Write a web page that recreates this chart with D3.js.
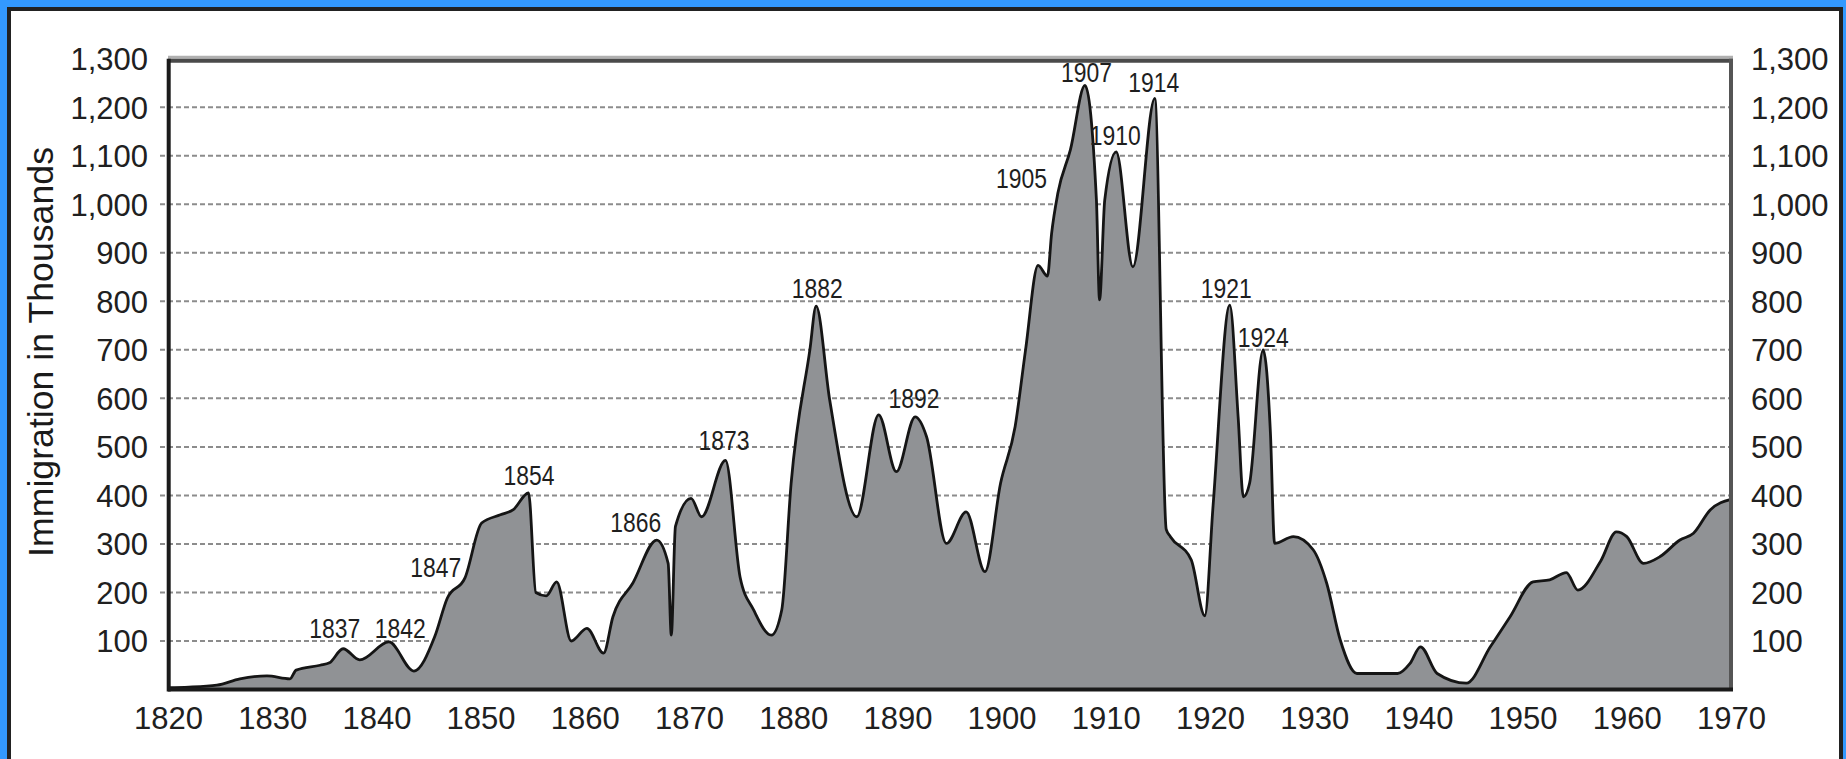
<!DOCTYPE html>
<html>
<head>
<meta charset="utf-8">
<script src="https://cdn.jsdelivr.net/npm/d3@7"></script>
<style>
  html, body { margin: 0; padding: 0; background: #ffffff; }
  svg { display: block; }
  text { font-family: "Liberation Sans", Arial, sans-serif; }
</style>
</head>
<body>
<svg id="chart" width="1846" height="759"></svg>
<script>
// ---- data (year, thousands) ----
const years = [1820, 1822, 1824.7, 1826.9, 1829.5, 1831.7, 1832.3, 1834.6, 1835.5, 1836.8, 1838.4, 1841.2, 1843.6,
  1845.6, 1846.8, 1848.5, 1850.1, 1851.9, 1853.1, 1854.6, 1855.3, 1856.3, 1857.3, 1858.7, 1860.2, 1861.8, 1862.7,
  1864.6, 1866.9, 1868.0, 1868.3, 1868.7, 1870.2, 1871.2, 1873.5, 1874.9, 1876.2, 1877.9, 1878.9, 1879.8, 1881.6,
  1882.2, 1883.5, 1886.1, 1888.2, 1889.9, 1891.7, 1892.8, 1894.7, 1896.6, 1898.4, 1899.9, 1901.3, 1902.3, 1903.5,
  1904.4, 1904.8, 1905.4, 1906.6, 1908.0, 1909.1, 1909.4, 1909.9, 1911.0, 1912.6, 1914.7, 1915.8, 1916.2, 1918.2,
  1919.5, 1920.3, 1921.9, 1922.7, 1923.2, 1923.8, 1925.1, 1925.8, 1926.2, 1928.0, 1929.9, 1931.2, 1932.5, 1934.1,
  1938.0, 1939.2, 1940.2, 1941.8, 1944.6, 1946.9, 1948.8, 1951.0, 1952.6, 1954.2, 1955.3, 1957.5, 1959.0, 1960.0,
  1961.6, 1963.2, 1965.1, 1966.4, 1968.0, 1970.0];
const immigration = [4, 5, 9, 22, 28, 22, 40, 50, 55, 84, 61, 98, 38,
  109, 188, 230, 343, 360, 370, 405, 200, 193, 222, 100, 126, 75, 150,
  219, 308, 260, 112, 336, 394, 356, 472, 232, 164, 112, 164, 425, 700,
  790, 597, 356, 566, 449, 562, 521, 301, 366, 243, 425, 542, 700, 874,
  852, 940, 1023, 1112, 1245, 1009, 803, 1009, 1108, 871, 1218, 330, 315, 267,
  152, 380, 792, 562, 397, 425, 700, 528, 301, 315, 288, 219, 102, 33,
  33, 54, 88, 33, 13, 88, 150, 222, 226, 241, 205, 265, 325, 315,
  260, 274, 308, 322, 370, 392];

const xTicks = [1820, 1830, 1840, 1850, 1860, 1870, 1880, 1890, 1900, 1910, 1920, 1930, 1940, 1950, 1960, 1970];
const yTicks = [100, 200, 300, 400, 500, 600, 700, 800, 900, 1000, 1100, 1200, 1300];

const peakLabels = ["1837", "1842", "1847", "1854", "1866", "1873", "1882", "1892", "1905", "1907", "1910", "1914", "1921", "1924"];
const peakLabelYear = [1836.0, 1842.3, 1845.7, 1854.65, 1864.9, 1873.35, 1882.3, 1891.6, 1901.9, 1908.15, 1910.9, 1914.6, 1921.55, 1925.1];
const peakLabelValue = [106, 106, 232, 421, 325, 493, 807, 580, 1034, 1252, 1122, 1231, 807, 705];

const yTitle = "Immigration in Thousands";

// ---- layout ----
const W = 1846, H = 759;
const svg = d3.select("#chart");

const x = d3.scaleLinear().domain([1820, 1970]).range([168, 1731]);
const y = d3.scaleLinear().domain([0, 1300]).range([689.5, 58.7]);

// frame
svg.append("rect").attr("x", 0).attr("y", 0).attr("width", W).attr("height", H).attr("fill", "#3399ff");
svg.append("rect").attr("x", 7).attr("y", 7).attr("width", 1836).attr("height", H - 7).attr("fill", "#222");
svg.append("rect").attr("x", 11).attr("y", 11).attr("width", 1828).attr("height", H - 11).attr("fill", "#ffffff");

// gridlines
svg.append("g").selectAll("line").data(yTicks.filter(d => d < 1300)).join("line")
  .attr("x1", 160).attr("x2", x(1970))
  .attr("y1", d => y(d)).attr("y2", d => y(d))
  .attr("stroke", "#8c8c8c").attr("stroke-width", 2)
  .attr("stroke-dasharray", "5,3");

// area
const pts = years.map((yr, i) => [yr, immigration[i]]);
const area = d3.area().x(d => x(d[0])).y0(y(0)).y1(d => y(d[1])).curve(d3.curveMonotoneX);
const line = d3.line().x(d => x(d[0])).y(d => y(d[1])).curve(d3.curveMonotoneX);
svg.append("path").datum(pts).attr("d", area).attr("fill", "#909295");
svg.append("path").datum(pts).attr("d", line).attr("fill", "none")
  .attr("stroke", "#151515").attr("stroke-width", 2.8).attr("stroke-linejoin", "round");

// plot borders
svg.append("line").attr("x1", x(1820)).attr("x2", x(1970) + 2).attr("y1", y(1300) - 1.5).attr("y2", y(1300) - 1.5)
  .attr("stroke", "#b0b0b0").attr("stroke-width", 3);
svg.append("line").attr("x1", x(1820)).attr("x2", x(1970) + 2).attr("y1", y(1300) + 2).attr("y2", y(1300) + 2)
  .attr("stroke", "#4a4a4a").attr("stroke-width", 4);
svg.append("line").attr("x1", x(1970)).attr("x2", x(1970)).attr("y1", y(1300)).attr("y2", y(0))
  .attr("stroke", "#555").attr("stroke-width", 4);
svg.append("line").attr("x1", x(1820) + 0.7).attr("x2", x(1820) + 0.7).attr("y1", y(1300)).attr("y2", y(0) + 2)
  .attr("stroke", "#1a1a1a").attr("stroke-width", 4);
svg.append("line").attr("x1", x(1820)).attr("x2", x(1970) + 2).attr("y1", y(0)).attr("y2", y(0))
  .attr("stroke", "#1a1a1a").attr("stroke-width", 4);

// axes (tick labels via d3 axes, domain/ticks hidden)
const fmt = d3.format(",");
const leftAxis = d3.axisLeft(y).tickValues(yTicks).tickFormat(fmt).tickSize(0).tickPadding(20);
const rightAxis = d3.axisRight(y).tickValues(yTicks).tickFormat(fmt).tickSize(0).tickPadding(20);
const bottomAxis = d3.axisBottom(x).tickValues(xTicks).tickFormat(d3.format("d")).tickSize(0).tickPadding(17);

function styleAxis(g) {
  g.select(".domain").remove();
  g.selectAll("text").attr("font-size", 31).attr("fill", "#202020")
    .attr("font-family", "'Liberation Sans', Arial, sans-serif");
}
svg.append("g").attr("transform", "translate(148,1)").call(leftAxis).call(styleAxis)
  .selectAll("text").attr("x", 0);
svg.append("g").attr("transform", "translate(1751,1)").call(rightAxis).call(styleAxis)
  .selectAll("text").attr("x", 0);
svg.append("g").attr("transform", `translate(0,${y(0)})`).call(bottomAxis).call(styleAxis);

// y title
svg.append("text")
  .attr("transform", "translate(53,352) rotate(-90)")
  .attr("text-anchor", "middle")
  .attr("font-size", 35)
  .attr("fill", "#1a1a1a")
  .attr("textLength", 410).attr("lengthAdjust", "spacingAndGlyphs")
  .text(yTitle);

// peak labels
svg.append("g").selectAll("text").data(peakLabels).join("text")
  .attr("x", (d, i) => x(peakLabelYear[i]))
  .attr("y", (d, i) => y(peakLabelValue[i]))
  .attr("text-anchor", "middle")
  .attr("font-size", 27)
  .attr("fill", "#1e1e1e")
  .attr("textLength", 51).attr("lengthAdjust", "spacingAndGlyphs")
  .text(d => d);
</script>
</body>
</html>
